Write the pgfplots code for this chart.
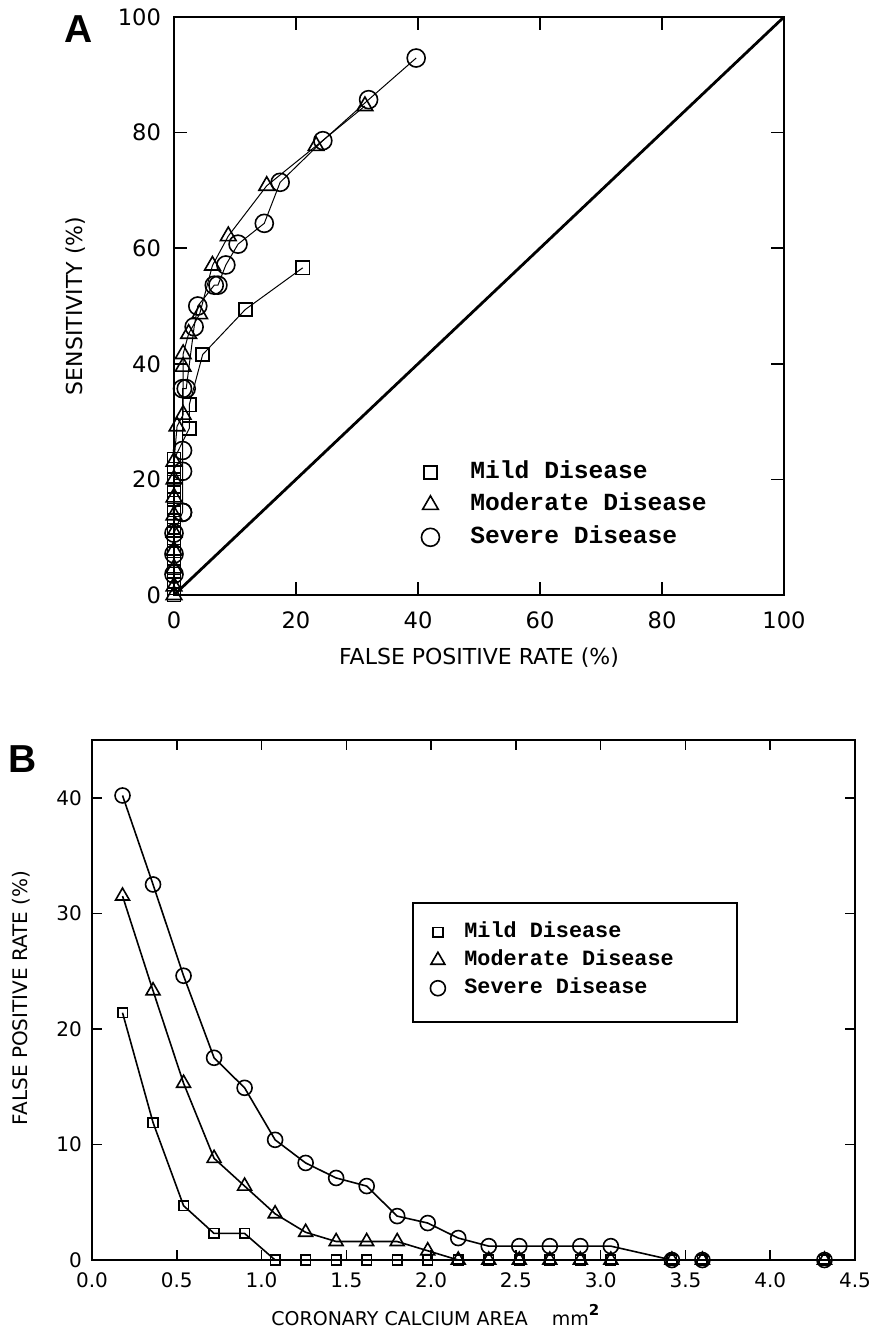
\documentclass[border=0pt]{standalone}
\usepackage{fontspec}
\setmainfont{DejaVu Sans}
\newfontfamily\legfont{Liberation Mono}
\newfontfamily\panelfont{Liberation Sans}
\usepackage{pgfplots}
\pgfplotsset{compat=1.18}
\begin{document}
\begin{tikzpicture}
\path[use as bounding box] (0,0) rectangle (437.5pt,-668pt);
% ---------------- Panel A ----------------
\begin{axis}[
  at={(87pt,-297.5pt)}, anchor=south west,
  scale only axis, width=305pt, height=289pt,
  xmin=0, xmax=100, ymin=0, ymax=100,
  xtick={0,20,40,60,80,100}, ytick={0,20,40,60,80,100},
  tick align=inside, major tick length=6.5pt,
  axis line style={line width=0.9pt},
  tick style={line width=0.8pt, black},
  /pgf/number format/assume math mode=true,
  ticklabel style={font=\fontsize{11.3}{13}\selectfont},
  yticklabel style={xshift=-3pt},
  xticklabel style={yshift=-5pt},
  xlabel={FALSE POSITIVE RATE (\%)}, ylabel={SENSITIVITY (\%)},
  label style={font=\fontsize{11}{13}\selectfont},
  xlabel style={at={(axis description cs:0.5,-0.108)}, anchor=center},
  ylabel style={at={(axis description cs:-0.161,0.5)}, anchor=center},
  legend cell align=left,
  legend style={draw=none, fill=none, at={(rel axis cs:0.405,0.232)}, anchor=north west,
    inner sep=0pt, font=\legfont\bfseries\fontsize{12.3}{14}\selectfont,
    nodes={inner sep=0pt, text height=8.5pt, text depth=2.5pt},
    row sep=5.25pt,
    /tikz/every odd column/.append style={column sep=15.5pt}},
]
\addlegendimage{only marks, mark=square, mark size=3.3pt, mark options={line width=0.8pt, fill=white}}
\addlegendentry{Mild Disease}
\addlegendimage{only marks, mark=triangle, mark size=4.5pt, mark options={line width=0.8pt, fill=white}}
\addlegendentry{Moderate Disease}
\addlegendimage{only marks, mark=o, mark size=4.5pt, mark options={line width=0.8pt, fill=white}}
\addlegendentry{Severe Disease}
\addplot[black, line width=1.4pt, forget plot] coordinates {(0,0) (100,100)};
\addplot[black, line width=0.5pt, mark=square, mark size=3.3pt, mark options={line width=0.8pt, fill=white}, forget plot] coordinates {
(21.1,56.6) (11.7,49.4) (4.7,41.6) (2.5,32.9) (2.5,28.8) (0,23.5) (0,21.8) (0,20.0) (0,18.2) (0,16.5)
(0,14.7) (0,12.9) (0,11.2) (0,9.4) (0,7.6) (0,5.9) (0,4.1) (0,2.4) (0,1.2) (0,0)};
\addplot[black, line width=0.5pt, mark=triangle, mark size=4.5pt, mark options={line width=0.8pt, fill=white}, forget plot] coordinates {
(31.3,84.6) (23.3,77.7) (15.2,70.8) (8.9,62.1) (6.3,57.0) (4.2,48.6) (2.4,45.2) (1.5,41.7) (1.5,39.5) (1.5,31.2)
(0.5,29.2) (0,23.1) (0,20.0) (0,16.9) (0,13.8) (0,10.8) (0,7.7) (0,4.6) (0,1.5) (0,0)};
\addplot[black, line width=0.5pt, mark=o, mark size=4.5pt, mark options={line width=0.8pt, fill=white}, forget plot] coordinates {
(39.7,92.9) (31.9,85.7) (24.4,78.6) (17.4,71.4) (14.8,64.3) (10.5,60.7) (8.5,57.1) (7.2,53.6) (6.6,53.6) (3.9,50.0)
(3.3,46.4) (2.0,35.7) (1.4,35.7) (1.4,25.0) (1.4,21.4) (1.4,14.3) (1.4,14.3) (0,10.7) (0,7.1) (0,3.6)};
\end{axis}
% ---------------- Panel B ----------------
\begin{axis}[
  at={(46pt,-630pt)}, anchor=south west,
  scale only axis, width=381.5pt, height=260pt,
  xmin=0, xmax=4.5, ymin=0, ymax=45,
  xtick={0,0.5,1,1.5,2,2.5,3,3.5,4,4.5}, ytick={0,10,20,30,40},
  /pgf/number format/assume math mode=true,
  xticklabel style={/pgf/number format/fixed, /pgf/number format/fixed zerofill, /pgf/number format/precision=1, yshift=-3pt},
  tick align=inside, major tick length=5pt,
  axis line style={line width=0.9pt},
  tick style={line width=0.8pt, black},
  ticklabel style={font=\fontsize{10}{12}\selectfont},
  yticklabel style={xshift=-1.5pt},
  xlabel={CORONARY CALCIUM AREA\hspace{12pt}mm\raisebox{1.0ex}{\fontsize{7.5}{8}\selectfont\bfseries 2}},
  ylabel={FALSE POSITIVE RATE (\%)},
  xlabel style={font=\fontsize{9.5}{11}\selectfont, at={(axis description cs:0.45,-0.106)}, anchor=center},
  ylabel style={font=\fontsize{10}{12}\selectfont, at={(axis description cs:-0.093,0.504)}, anchor=center},
  legend cell align=left,
  legend style={draw=none, fill=none, at={(rel axis cs:0.443,0.65)}, anchor=north west,
    inner sep=0pt, font=\legfont\bfseries\fontsize{10.9}{13}\selectfont,
    nodes={inner sep=0pt, text height=7.6pt, text depth=2.2pt},
    row sep=4.2pt,
    /tikz/every odd column/.append style={column sep=9.5pt}},
]
\addlegendimage{only marks, mark=square, mark size=2.4pt, mark options={line width=0.8pt, fill=white}}
\addlegendentry{Mild Disease}
\addlegendimage{only marks, mark=triangle, mark size=4pt, mark options={line width=0.8pt, fill=white}}
\addlegendentry{Moderate Disease}
\addlegendimage{only marks, mark=o, mark size=3.75pt, mark options={line width=0.8pt, fill=white}}
\addlegendentry{Severe Disease}
\draw[line width=0.9pt] (rel axis cs:0.4207,0.6865) rectangle (rel axis cs:0.8453,0.4577);
\addplot[black, line width=0.8pt, mark=square, mark size=2.4pt, mark options={line width=0.8pt, fill=white}, forget plot] coordinates {
(0.18,21.4) (0.36,11.9) (0.54,4.7) (0.72,2.3) (0.90,2.3) (1.08,0) (1.26,0) (1.44,0) (1.62,0) (1.80,0)
(1.98,0) (2.16,0) (2.34,0) (2.52,0) (2.70,0) (2.88,0) (3.06,0) (3.42,0) (3.60,0) (4.32,0)};
\addplot[black, line width=0.8pt, mark=triangle, mark size=4pt, mark options={line width=0.8pt, fill=white}, forget plot] coordinates {
(0.18,31.5) (0.36,23.3) (0.54,15.3) (0.72,8.8) (0.90,6.4) (1.08,4.0) (1.26,2.4) (1.44,1.6) (1.62,1.6) (1.80,1.6)
(1.98,0.8) (2.16,0) (2.34,0) (2.52,0) (2.70,0) (2.88,0) (3.06,0) (3.42,0) (3.60,0) (4.32,0)};
\addplot[black, line width=0.8pt, mark=o, mark size=3.75pt, mark options={line width=0.8pt, fill=white}, forget plot] coordinates {
(0.18,40.2) (0.36,32.5) (0.54,24.6) (0.72,17.5) (0.90,14.9) (1.08,10.4) (1.26,8.4) (1.44,7.1) (1.62,6.4) (1.80,3.8)
(1.98,3.2) (2.16,1.9) (2.34,1.2) (2.52,1.2) (2.70,1.2) (2.88,1.2) (3.06,1.2) (3.42,0) (3.60,0) (4.32,0)};
\end{axis}
\node[font=\panelfont\bfseries\fontsize{19.5}{20}\selectfont] at (39.5pt,-14.5pt) {A};
\node[font=\panelfont\bfseries\fontsize{19.5}{20}\selectfont] at (11.5pt,-379.5pt) {B};
\end{tikzpicture}
\end{document}
